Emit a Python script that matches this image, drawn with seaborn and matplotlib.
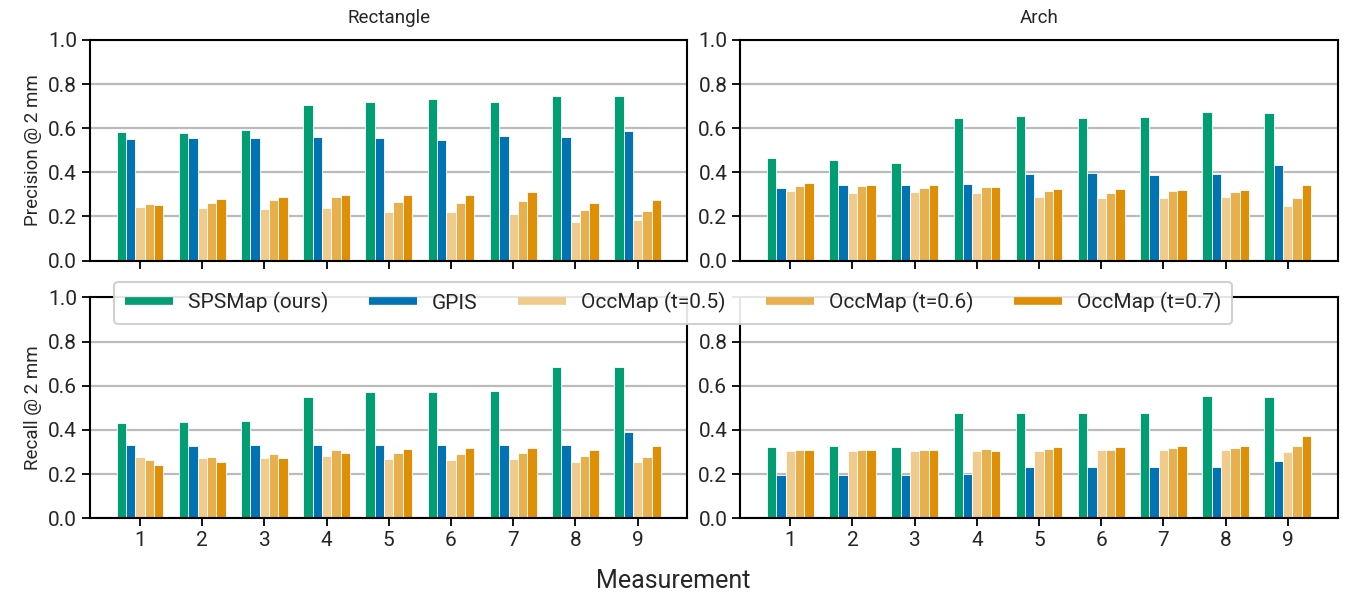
import numpy as np
import pandas as pd
import matplotlib
matplotlib.use('Agg')
import matplotlib.pyplot as plt
from matplotlib.lines import Line2D
import seaborn as sns

measurements = [1, 2, 3, 4, 5, 6, 7, 8, 9]
methods = ['SPSMap (ours)', 'GPIS', 'OccMap (t=0.5)', 'OccMap (t=0.6)', 'OccMap (t=0.7)']
colors = ['#029E73', '#0173B2', '#F0CB8C', '#E8AF4D', '#DE8F05']

# Precision @ 2 mm, Rectangle
prec_rect_spsmap = [0.583, 0.580, 0.592, 0.706, 0.720, 0.732, 0.720, 0.747, 0.747]
prec_rect_gpis = [0.553, 0.556, 0.556, 0.559, 0.556, 0.548, 0.565, 0.559, 0.588]
prec_rect_occ05 = [0.242, 0.239, 0.236, 0.239, 0.218, 0.220, 0.211, 0.176, 0.182]
prec_rect_occ06 = [0.255, 0.262, 0.274, 0.288, 0.265, 0.261, 0.270, 0.229, 0.226]
prec_rect_occ07 = [0.253, 0.277, 0.288, 0.298, 0.295, 0.298, 0.311, 0.262, 0.276]

# Precision @ 2 mm, Arch
prec_arch_spsmap = [0.465, 0.457, 0.444, 0.645, 0.654, 0.646, 0.652, 0.672, 0.667]
prec_arch_gpis = [0.331, 0.341, 0.343, 0.349, 0.391, 0.395, 0.386, 0.394, 0.432]
prec_arch_occ05 = [0.314, 0.305, 0.311, 0.305, 0.287, 0.285, 0.285, 0.287, 0.246]
prec_arch_occ06 = [0.337, 0.340, 0.331, 0.334, 0.314, 0.305, 0.314, 0.309, 0.285]
prec_arch_occ07 = [0.353, 0.344, 0.343, 0.335, 0.323, 0.323, 0.322, 0.320, 0.341]

# Recall @ 2 mm, Rectangle
rec_rect_spsmap = [0.432, 0.436, 0.442, 0.551, 0.572, 0.572, 0.577, 0.687, 0.687]
rec_rect_gpis = [0.331, 0.329, 0.331, 0.331, 0.334, 0.334, 0.334, 0.334, 0.389]
rec_rect_occ05 = [0.276, 0.273, 0.275, 0.282, 0.269, 0.266, 0.267, 0.254, 0.254]
rec_rect_occ06 = [0.266, 0.279, 0.291, 0.308, 0.297, 0.291, 0.297, 0.281, 0.279]
rec_rect_occ07 = [0.240, 0.257, 0.273, 0.297, 0.312, 0.317, 0.320, 0.311, 0.325]

# Recall @ 2 mm, Arch
rec_arch_spsmap = [0.322, 0.325, 0.322, 0.475, 0.478, 0.477, 0.475, 0.554, 0.549]
rec_arch_gpis = [0.195, 0.198, 0.196, 0.199, 0.232, 0.231, 0.232, 0.231, 0.260]
rec_arch_occ05 = [0.303, 0.305, 0.303, 0.303, 0.305, 0.311, 0.311, 0.311, 0.302]
rec_arch_occ06 = [0.311, 0.311, 0.311, 0.314, 0.312, 0.311, 0.318, 0.318, 0.328]
rec_arch_occ07 = [0.311, 0.311, 0.311, 0.306, 0.321, 0.323, 0.329, 0.325, 0.374]


def make_df(series):
    rows = []
    for method, vals in zip(methods, series):
        for m, v in zip(measurements, vals):
            rows.append({'Measurement': m, 'Method': method, 'value': v})
    return pd.DataFrame(rows)


panels = [
    (make_df([prec_rect_spsmap, prec_rect_gpis, prec_rect_occ05, prec_rect_occ06, prec_rect_occ07]), 'Rectangle', 'Precision @ 2 mm'),
    (make_df([prec_arch_spsmap, prec_arch_gpis, prec_arch_occ05, prec_arch_occ06, prec_arch_occ07]), 'Arch', None),
    (make_df([rec_rect_spsmap, rec_rect_gpis, rec_rect_occ05, rec_rect_occ06, rec_rect_occ07]), None, 'Recall @ 2 mm'),
    (make_df([rec_arch_spsmap, rec_arch_gpis, rec_arch_occ05, rec_arch_occ06, rec_arch_occ07]), None, None),
]

sns.set_style('white')
plt.rcParams['font.family'] = ['Roboto', 'DejaVu Sans']

fig, axes = plt.subplots(2, 2, figsize=(13.47, 5.95), dpi=100)
fig.subplots_adjust(left=0.067, right=0.993, top=0.933, bottom=0.129,
                    wspace=0.089, hspace=0.167)

for ax, (df, title, ylabel) in zip(axes.flat, panels):
    sns.barplot(data=df, x='Measurement', y='value', hue='Method',
                hue_order=methods, palette=colors, width=0.75, saturation=1,
                edgecolor='white', linewidth=0.6, ax=ax, legend=False)
    ax.set_ylim(0, 1.0)
    ax.set_xlim(-0.8, 8.8)
    ax.set_yticks([0, 0.2, 0.4, 0.6, 0.8, 1.0])
    ax.set_yticklabels(['0.0', '0.2', '0.4', '0.6', '0.8', '1.0'])
    ax.yaxis.grid(True, color='#bbbbbb', linewidth=1.6)
    ax.set_axisbelow(True)
    for sp in ax.spines.values():
        sp.set_visible(True)
        sp.set_color('black')
        sp.set_linewidth(1.5)
    ax.tick_params(axis='both', direction='out', length=6, width=1.3,
                   labelsize=15, color='black', left=True, bottom=True)
    ax.set_xlabel('')
    ax.set_ylabel(ylabel if ylabel else '', fontsize=13.5)
    if title:
        ax.set_title(title, fontsize=13.5, pad=12)

for ax in axes[0]:
    ax.tick_params(labelbottom=False)

# the legend covers the top label of the lower right panel
axes[1, 1].get_yticklabels()[-1].set_visible(False)

fig.text(0.5, 0.003, 'Measurement', ha='center', va='bottom', fontsize=18)

handles = [Line2D([0], [0], color=c, linewidth=5.5, solid_capstyle='butt') for c in colors]
leg = fig.legend(handles, methods, loc='center', bbox_to_anchor=(0.4997, 0.491),
                 ncol=5, fontsize=15, frameon=True, handlelength=2.3,
                 handletextpad=0.72, columnspacing=1.95, borderpad=0.5,
                 fancybox=True)
leg.get_frame().set_edgecolor('#cccccc')
leg.get_frame().set_linewidth(1.5)
leg.get_frame().set_alpha(0.9)

fig.savefig('out.png', dpi=100)
